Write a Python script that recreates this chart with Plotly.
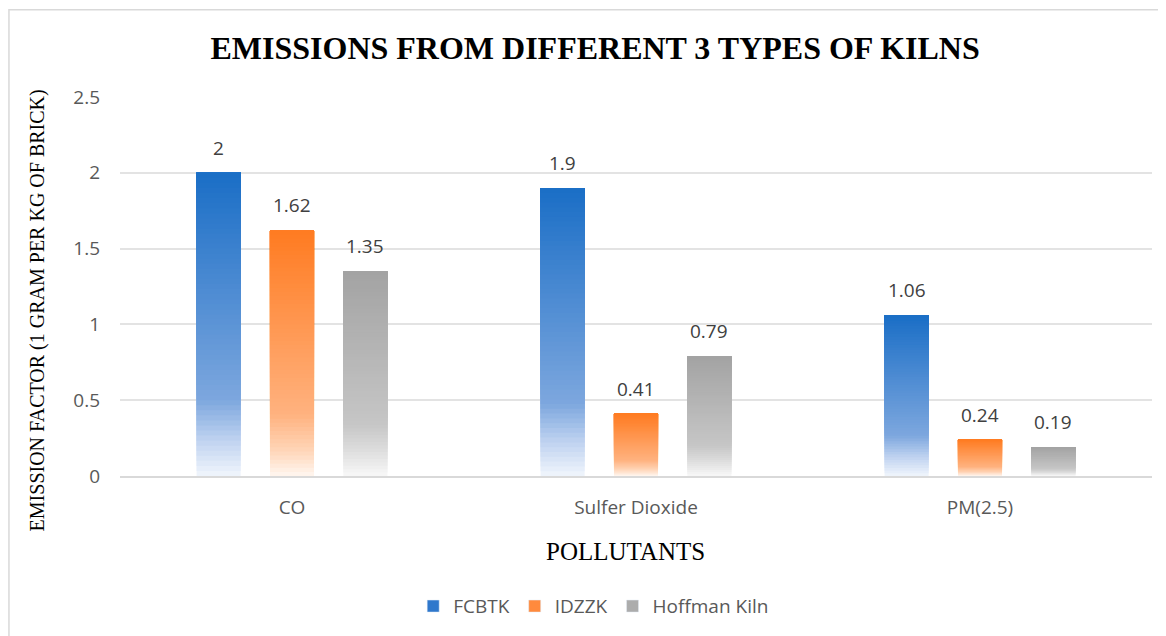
import plotly.graph_objects as go

categories = ["CO", "Sulfer Dioxide", "PM(2.5)"]
series_names = ["FCBTK", "IDZZK", "Hoffman Kiln"]
fcbtk = [2.0, 1.9, 1.06]
idzzk = [1.62, 0.41, 0.24]
hoffman = [1.35, 0.79, 0.19]
y_ticks = [0, 0.5, 1, 1.5, 2, 2.5]

series_values = [fcbtk, idzzk, hoffman]

# gradient stops: (fraction from bottom, rgb)
gradients = [
    [(0.0, (240, 245, 252)), (0.12, (190, 210, 240)), (0.25, (125, 167, 222)), (1.0, (26, 110, 198))],
    [(0.0, (255, 247, 241)), (0.10, (255, 214, 185)), (0.25, (255, 178, 127)), (1.0, (255, 123, 33))],
    [(0.0, (248, 248, 248)), (0.12, (222, 222, 222)), (0.25, (198, 198, 198)), (1.0, (163, 163, 163))],
]
solid = ["#2F78CC", "#FF8A3D", "#ACACAC"]


def interp(stops, t):
    for (t0, c0), (t1, c1) in zip(stops[:-1], stops[1:]):
        if t0 <= t <= t1:
            f = (t - t0) / (t1 - t0)
            return "rgb(%d,%d,%d)" % tuple(round(a + (b - a) * f) for a, b in zip(c0, c1))
    return "rgb(%d,%d,%d)" % stops[-1][1]


BARGAP = 0.36
BARGROUPGAP = 0.40
N = 60
SANS = "Open Sans"

fig = go.Figure()
for k, (name, vals) in enumerate(zip(series_names, series_values)):
    for i in range(N):
        t = (i + 0.5) / N
        fig.add_trace(go.Bar(
            x=categories,
            base=[v * i / N for v in vals],
            y=[v * (1 - i / N) for v in vals],
            offsetgroup=name,
            marker=dict(color=interp(gradients[k], t), line=dict(width=0)),
            name=name,
            legendgroup=name,
            showlegend=False,
            hoverinfo="skip",
        ))
    # legend entry
    fig.add_trace(go.Bar(
        x=[None], y=[None], name=name, legendgroup=name,
        marker=dict(color=solid[k]), showlegend=True, offsetgroup=name,
    ))

slot = (1 - BARGAP) / 3
annotations = []
for k, vals in enumerate(series_values):
    for ci, v in enumerate(vals):
        annotations.append(dict(
            xref="x", yref="y", x=ci + (k - 1) * slot, y=v,
            text=f"{v:g}", showarrow=False, yanchor="bottom", yshift=10,
            font=dict(family=SANS, size=19, color="#404040"),
        ))

annotations.append(dict(
    xref="paper", yref="paper", x=-0.0804, y=0.437, textangle=-90,
    text="EMISSION FACTOR (1 GRAM PER KG OF BRICK)", showarrow=False,
    xanchor="center", yanchor="middle",
    font=dict(family="Liberation Serif", size=20, color="#000000"),
))
annotations.append(dict(
    xref="paper", yref="paper", x=0.490, y=-0.2,
    text="POLLUTANTS", showarrow=False, xanchor="center", yanchor="middle",
    font=dict(family="Liberation Serif", size=25, color="#000000"),
))

fig.update_layout(
    width=1158, height=628,
    margin=dict(l=112, r=14, t=89, b=159),
    paper_bgcolor="white", plot_bgcolor="white",
    barmode="group", bargap=BARGAP, bargroupgap=BARGROUPGAP,
    title=dict(
        text="<b>EMISSIONS FROM DIFFERENT 3 TYPES OF KILNS</b>",
        xref="container", yref="container", x=0.507, y=0.936,
        xanchor="center", yanchor="middle",
        font=dict(family="Liberation Serif", size=32, color="#000000"),
    ),
    xaxis=dict(
        type="category", showgrid=False, showline=True, linecolor="#D9D9D9", linewidth=1.5,
        ticks="", ticklabelstandoff=13,
        tickfont=dict(family=SANS, size=19, color="#595959"),
    ),
    yaxis=dict(
        range=[0, 2.5], tickvals=y_ticks, ticktext=[f"{v:g}" for v in y_ticks],
        showgrid=True, gridcolor="#E3E3E3", gridwidth=1.5, zeroline=False, showline=False,
        ticks="", ticklabelstandoff=19,
        tickfont=dict(family=SANS, size=19, color="#595959"),
    ),
    legend=dict(
        orientation="h", xref="paper", x=0.459, xanchor="center", y=-0.29, yanchor="top",
        font=dict(family=SANS, size=19, color="#595959"),
        itemwidth=30, traceorder="normal",
    ),
    annotations=annotations,
    shapes=[dict(
        type="rect", xref="paper", yref="paper",
        x0=-0.1076, y0=1.2303, x1=1.2, y1=-0.6,
        line=dict(color="#D9D9D9", width=1.5), fillcolor="rgba(0,0,0,0)", layer="above",
    )],
)

fig.write_html("out.html")
